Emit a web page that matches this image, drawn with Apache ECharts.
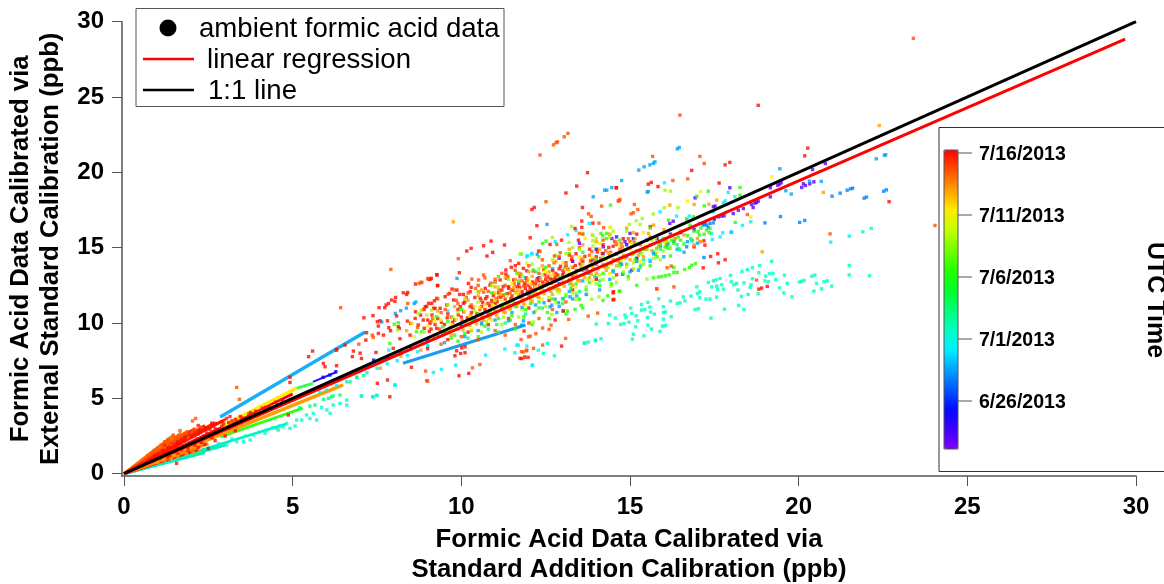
<!DOCTYPE html>
<html><head><meta charset="utf-8">
<script src="https://cdn.jsdelivr.net/npm/echarts@6/dist/echarts.min.js"></script>
<style>html,body{margin:0;padding:0;background:#fff}#c{width:1164px;height:584px}</style></head>
<body><div id="c"></div>
<script>
// ---- scatter values, flat x,y lists grouped by sampling time ----
const violetPts=[20.79,20.59,20.41,20.19,20.45,19.37,20.33,19.24,20.2,19.13,20.14,19.24,20.09,19,19.48,19.31,19.43,19.22,19.38,19.15,19.16,18.98,19.16,18.38,18.8,18.09,18.75,18,18.7,17.96,18.6,17.87,18.65,17.67,16.93,18.31,17.96,18.98,17.52,17.76,17.47,17.72,17.62,17.05,17.72,17.1,17.79,17.12,18.06,17.27,18.21,17.49,18.36,17.6,16.18,16.61,16.28,16.76,14.78,13.25,15.05,13.51,15,15.95,14.85,15.4,14.6,15.72,14.46,15.61,14.21,15.06,13.5,15.3,13.9,14.2,12.9,14.3];
const indigoPts=[10.8,10.6,11.6,11.3,12.3,13,12.9,12.6,13.3,14.1,13.7,13.6,14,14.9,14.3,13.8,14.6,14.6,14.9,15.2,15.2,14.3,15.5,15.5,15.8,15.6,16.2,15.9,16.5,16,16.9,16.2,7.4,7.54,7.8,7.7,8.2,8,8.5,8.3,6.28,6.77,6.1,6.55,5.9,6.4,9,8.9,9.5,9.4,10,9.8,10.4,10.2,11.2,11.1,12,11.9,13.1,13.8,14.2,14.6,15.1,15.6,17.2,16.6,17.5,16.9];
const azurePts=[22.6,18.84,22.52,18.75,22.01,18.36,21.94,18.29,21.6,18.95,21.54,18.91,21.44,18.82,21.23,18.62,20.99,18.42,20.18,16.81,20.03,16.68,19.46,17.07,19,16.65,18.01,16.03,17.37,16.61,17.27,16.5,17.17,16.5,17.47,16.65,17.32,16.34,17.07,16.61,17.23,16.65,17.19,14.35,16.68,15.06,14.75,13.9,15.2,14.1,15.9,15.1,16.3,15.4,13.8,13.3];
const skyPts=[16.46,21.65,16.4,21.56,15.74,20.7,15.69,20.6,15.59,20.5,15.42,20.37,15.26,20.15,14.75,19.46,14.46,18.99,14.31,18.82,14.25,18.82,15.54,18.73,15.51,18.69,22.54,21.14,22.58,21.17,22.3,20.9,20.67,19.4,20.32,19.42,19.78,18.56,19.62,18.78,19.44,20.24,13.91,18.38,12.54,16.55,8.6,11.3,8.65,11.4,8.37,10.99,8.2,10.82,8.04,10.64,7.64,10.07,9.87,12.97,13.02,10.8,12.83,10.7,13.42,11.81,13.22,11.74,13.02,11.63,12.88,11.35,12.68,11.19,12.63,11.08,12.78,11.57,11.84,10.15,11.79,9.86,9.5,8.7,10.5,9.5,11.5,10.7,10.8,11.3,11.9,13,12.2,11.2,12.7,13.6,13.2,12.1,13.6,12.8,14,13,14.4,12.9,14.7,14,15,13.4,15.3,14.7,15.6,14.1,16,14.4,16.4,14.9,16.7,15.4,12.25,14.56];
const skyCore=[10.1,9.1,10.6,10,11,10.2,11.4,10.15,11.8,11.05,12.15,10.7,12.45,11.35,12.9,11.1,13.3,11.6,13.7,11.9,14.1,12.2,14.5,13.4,14.9,14.4,15.25,13.5,15.7,14.6,16.1,15.2,16.6,14.7,17,15.3];
const cyanPts=[13.4,16.15,13.79,16.61,13.15,15.86,12.78,15.4,12.09,14.62,11.96,14.47,11.94,14.4,12.09,14.58,17.82,18.11,17.77,17.98,17.91,18.67,18.11,18.38,17.47,17.38,16.38,17.1,15.89,17.38,16.76,17.1,16.68,16.94,17.67,15.72,17.75,15.99,17.44,15.55,17.99,16.03,18.33,16.48,18.58,16.72,17.42,15.95,16.83,15.44,16.48,14.84,15.59,14.18,15.32,13.84,7.85,8.21,8.03,5.88,7.04,5.15,7.37,5.11,7.5,5.18,9.17,6.72,9.41,6.92,9.83,7.21,10.72,7.87,11.29,8.27,11.59,8.03,11.64,8.54,11.69,8.54,12.1,7.21,12.11,7.19,20.95,15.37,21.5,15.77,16.02,19.31,9.6,10.8,9,8.5,5.8,5.4,6,5.55,6.3,5.85,6.6,6.1,6.9,6.4,7.2,6.7,7.5,7,7.8,7.3,8.1,7.5,8.4,7.85,8.7,8.1,9,8.45];
const tealPts=[22.15,16.28,21.9,16.06,21.5,13.82,21.5,13.2,22.1,13.14,20.98,12.45,20.85,12.8,20.75,12.74,20.68,12.27,20.53,12.63,20.45,12.12,20.48,13.18,20.39,13.11,20.16,12.83,20.09,12.76,20.02,12.72,19.8,11.74,19.66,12.63,19.56,12,19.43,12.34,19.58,13.18,19.32,12.89,19.24,13.29,19.13,13.27,19.02,13.11,19,12.8,19.1,12.74,19.2,14.09,18.84,13.82,18.82,13.34,18.63,13.67,18.48,13.54,18.32,13.42,17.98,13.16,18.63,12.94,18.59,12.54,18.56,12.38,18.38,12.67,18.16,12.63,18.08,12.54,18.2,12.19,18,12.74,17.67,12.96,17.55,12.87,17.47,12.8,17.32,12.69,17.72,12.54,17.57,12.45,17.42,12.4,17.77,12.25,17.6,12.23,17.07,12.07,16.98,12.41,17,11.96,16.81,11.79,16.58,11.74,16.63,11.48,16.48,11.34,16.4,11.3,16.2,11.46,15.85,11.61,17.07,11.68,17.25,11.59,17.37,11.59,17.57,11.72,16.93,10.9,17.03,10.95,17.8,10.92,18.22,11.17,18.38,10.9,18.3,11.76,18.5,11.9,18.8,11.94,17.4,10.33,15.99,11.08,16.05,10.73,15.99,10.7,16.22,10.42,15.99,10.26,16.05,9.84,15.96,9.8,15.89,9.44,15.53,11.37,15.34,11.23,15.44,10.9,15.34,10.86,15.59,11.06,15.61,10.73,15.72,10.59,15.52,10.37,15.53,9.86,15.64,9.6,15.41,9.15,15.23,10.15,15.18,10.48,15.05,10.64,15.02,10.99,14.85,10.53,14.88,10.35,14.97,10.06,14.82,9.97,14.72,9.91,14.57,10.33,14.4,10.53,14.36,9.97,15.17,9.75,15.1,9.26,15.07,8.93,14.14,8.96,14,9.93,13.97,8.87,13.76,8.74,13.66,8.69,12.55,8.65,12.28,8.2,12.43,7.98,12.76,7.83,11.94,8.47,13.64,8.65,13.98,8.83,3.54,2.13,3.74,2.24,4.18,2.68,4.52,3.01,4.62,3.17,4.92,3.01,5.07,3.17,5.27,3.56,5.51,3.67,5.71,3.56,5.86,4.4,6.01,4.23,6.11,4.01,6.2,4.56,6.4,4.67,6.6,4.89,6.6,4.56,7.04,5.16,7.39,5.11,7.49,5.22,8.03,5.89,3.04,1.91,3.34,2.13,3.83,2.57,4.23,2.9,4.57,2.9,4.82,3.34,5.41,3.9,5.61,4,5.12,3.56,4.72,3.12,2.8,2,2.55,1.7,3.2,2.3,3.6,2.5,4,2.75,4.4,3.05];
const springPts=[5.51,4.49,5.66,4.56,5.91,4.94,6.06,5,6.2,5.16,6.4,5.22,6.15,5.11,5.21,4.38,10.2,9,10.8,9.6,11.3,10,11.9,10.6,12.4,11,13,11.6,13.5,12.1,14.1,12.8,14.8,13.3,15.4,14.2,15.9,14.9,16.4,15.2,16.8,15.6,12.2,13.4,13.2,12.6,6.7,6.1,6.9,6.4,7.1,6.5];
const greenPts=[14.42,17.83,12.41,15.29,12.51,15.44,11.77,14.58,14.34,11.81,14.68,12.12,13.55,11.17,13.37,10.9,13.14,10.8,8.01,9.93,8.13,10.02,7.88,8.65,8.82,9.42,9.27,10.42,8.67,9.42,16.94,13.95,16.83,13.84,16.76,13.69,16.62,13.56,16.4,13.36,16.3,13.36,16.16,13.2,16.05,13.14,15.94,13.09,15.84,13.05,14.14,15.95,14.19,15.79,14.31,15.95,16.14,15.28,16.09,15.39,16.23,15.5,16.04,15.06,15.89,15.28,16.33,15.61,15.99,15.61,15.79,14.95,16.43,15.72,15.69,14.73,16.18,14.95,17.37,16.28,17.27,16.17,17.02,16.06,16.78,16.5,16.68,16.83,16.88,17.05,17.32,18.75,18.26,19,18.26,18.49,16.98,18.42,17.2,17.78,18.12,16.68,16.14,16.83,9.3,9.1,9.6,10.1,9.8,9.2,10,10.9,10.3,9.5,10.5,10.6,10.7,9.8,10.9,12,11.1,10.3,11.3,11.9,11.5,10.5,11.7,12.8,11.9,10.9,12.1,12,12.3,11,12.5,13.7,12.7,11.6,12.9,13,13.1,11.8,13.2,14.6,13.4,12.6,13.6,14.7,13.8,12.7,14,14.2,14.1,12.5,14.3,15.6,14.5,13.5,14.7,15.5,14.9,13.9,15.1,14.6,15.3,13.7,15.5,14.9,15.6,16.3,15.8,14.4,15.9,15.2,16.1,15,16.3,15.3,16.5,15.5,16.7,15.8,16.9,16.1,17.1,16.3,17.2,15.9,11.65,13.3,11.1,13.08,12.14,13.52,12.29,14.4];
const greenCore=[9.45,9.75,9.7,9,10.1,9.3,10.35,10.2,10.6,9.9,10.85,10.8,11.05,9.9,11.2,11.05,11.45,10.2,11.6,11.1,11.85,10.4,12.05,11.3,12.3,11.4,12.55,10.7,12.75,12.3,13,11.3,13.25,12.3,13.5,11.6,13.7,12.2,13.95,13.1,14.2,13.3,14.45,12.6,14.7,13.8,14.95,13.1,15.15,14.2,15.4,14.9,15.6,13.8,15.75,14.55,16,15.45,16.2,14.45,16.45,14.95,16.6,15.25,16.85,15.5,17.05,15.85,17.35,16];
const greenLower=[9.9,8.8,10.5,9.1,11.1,9.4,11.6,9.6,12.1,9.9,12.6,10.3,13.1,10.6,13.6,11,14.2,11.5,14.7,12.1,15.2,12.5,15.7,13,16.3,13.7];
const limePts=[13.27,16.41,12.7,15.68,13.6,15.95,13.9,15.82,13.19,15.35,13.88,15.84,13.9,15.46,8.11,9.53,8.82,10.86,8.97,10.53,8.72,10.64,9.12,10.86,14.08,11.74,13.86,11.59,12.68,10.57,13.4,11.57,12.14,10.08,12.04,10.02,13.72,11.9,16.04,18.82,16.2,18.75,15.18,16.79,15.36,16.94,14.98,16.54,15.3,16.54,16.42,17.67,16.02,17.65,15.69,17.23,15.5,12.92,14.95,12.92,14.44,12.45,11.74,14.58,8.9,9.4,9.2,10.4,9.6,9.5,9.9,10.7,10.2,9.9,10.5,11.4,10.8,10.3,11.1,12.4,11.3,11.2,11.6,12,10.6,9.4,11.2,9.9,11.7,10.4,12.2,10.8,12.5,11.1,12.8,11.4,13.1,11.9,13.4,12,13.7,12.4,14,12.6,14.2,12.9,14.5,13,14.8,13.4,15.1,13.6,15.4,13.9,15.7,14.3,16,14.8,12.1,13.9,12.4,13.2,12.8,14.5,13.1,13.6,13.3,15,13.6,13.9,13.9,15.1,14.2,14.4,14.4,15.7,14.7,14.3,14.9,16.1,15.2,15.3];
const limeCore=[9.45,9.3,9.75,10.4,10.15,10.1,10.4,10.8,10.75,10.1,11,11.5,11.25,10.4,11.5,11.4,11.8,10.9,12.1,11.65,12.35,12.55,12.6,11.7,12.85,12.1,13,12.95,13.3,12,13.5,13.5,13.75,12.9,14.1,13.2,14.35,13.7,14.6,12.7,14.85,14.85,15.1,14,15.35,14.6,15.65,15.5,15.9,14.2,16.2,15.05,9.6,11.2,10.1,11.6,10.5,12.1,10.9,12.5,11.4,12.9,11.8,13.1,12.3,13.6,12.7,14.2,13.1,14.6,13.5,14.9,14,15.6,14.5,16.1];
const yellowPts=[19.2,19.71,18.58,17.03,17.09,18.73,14.41,16.34,16.7,18.09,14.42,16.37,13.67,15.62,8.53,10,9.22,10.09,11.94,13.96,8.6,9.1,9,9.8,9.4,10.2,9.7,9.9,10.1,10.8,10.4,11.1,10.7,11.2,11,12,11.2,11.5,11.5,12.6,11.7,12.2,12,12.9,12.2,12.4,12.5,13.4,12.7,12.7,13,14,13.2,13.4,13.5,14.4,13.8,13.9,14.1,15.3,14.3,14.2,14.7,15.2,15,14.9,15.4,16,10.3,9.6,10.9,10.2,11.4,10.9,11.9,11.2,12.4,11.6,12.9,12,13.4,12.4,13.9,12.8,14.4,13.3,14.9,13.7,15.3,14.1,15.8,14.7];
const yellowCore=[9.85,10.25,10.25,10.45,10.55,11.05,10.95,11.15,11.35,11.75,11.65,11.95,12.05,12.6,12.35,12.15,12.65,13.15,12.95,12.55,13.25,13.75,13.55,13.15,13.85,14.35,14.15,13.75,14.45,14.55,14.75,14.15,15.05,15.25,15.45,15.1,15.75,15.65,16.05,15.3];
const orangePts=[22.39,23.11,20.73,18.67,17.57,18.16,17.34,17.89,16.9,17.87,16.18,17.83,9.76,16.72,8.38,9.49,9.2,9,9.5,9.4,9.9,9.6,10.1,10,10.3,10.1,10.5,10.2,10.6,10.5,10.8,10.6,11,10.8,11.2,11,11.3,10.7,11.4,11.2,11.5,11.5,11.7,11.3,11.8,11.6,12,11.8,12.1,11.4,12.2,12,12.3,11.7,12.4,12.2,12.6,12.3,12.7,11.9,12.8,12.5,12.9,12.2,13,12.7,13.2,12.9,13.3,12.5,13.4,13.2,13.5,12.8,13.7,13.3,13.8,13,13.9,13.7,14,13.3,14.2,13.9,14.3,13.5,14.5,14.2,14.6,13.8,14.8,14.5,15,14.2,15.2,14.8,15.4,14.4,15.6,15.2,15.9,15.4,16.2,15.8,16.5,16.1,10.5,11.8,11,12.4,11.6,12.9,12.1,13.1,12.6,13.4,13.1,13.9,13.6,14.3,14.1,14.9,14.6,15.4,15.1,16,15.7,16.5,8.2,7.8,7.6,7,8.8,8.2,17,15.6,17.1,15.4,18.92,14.73,16.9,15.2,17.07,15.39];
const orangeCore=[9.7,9.2,10.05,9.55,10.25,9.85,10.45,9.95,10.65,10.2,10.85,10.4,11.05,10.5,11.25,10.75,11.45,10.95,11.65,11.1,11.85,11.3,12.05,11.55,12.25,11.75,12.45,11.95,12.65,12.1,12.85,12.25,13.05,12.45,13.25,12.65,13.45,12.85,13.65,13.05,13.85,13.25,14.05,13.6,14.25,13.7,14.45,13.95,14.65,14.1,14.85,14.3,15.05,14.55,15.25,14.5,15.45,14.9,15.65,14.8,15.85,15.1,16.05,15.5,16.35,15.6,16.6,15.85,11.15,11.95,11.55,12.35,11.95,12.75,12.35,12.95,12.75,13.25,13.15,13.6,13.55,13.7,13.95,14.25,14.35,14.65,14.75,15.1,15.15,15.6,15.55,15.95,16,16.2,1,0.75,1.2,0.9,1.4,1,1.6,1.15,1.85,1.3,2.05,1.4,2.25,1.55,9.3,10.8,9.8,11.1,10.2,11.5,10.6,12.2,11,12.7,11.3,13,11.7,13.3,12,13.4,12.4,13.8,12.8,14.1,13.2,14.9,13.6,15.2,14,15.4,14.4,15.9,14.9,16.3];
const dorangePts=[24.04,16.48,16.48,23.8,23.4,28.9,13.16,22.59,13.05,22.36,12.85,22.03,12.81,21.97,12.73,21.83,12.33,21.15,12.51,18.05,13.77,17.25,13.85,17.08,14.16,17.76,14.68,18.1,14.08,16.63,14.22,16.33,15.67,21.06,17.07,21.06,17.2,20.59,16.71,19.57,16.27,19.46,20.93,15.92,18.48,17.2,16.22,13.78,16.1,13.67,16.3,12.4,15.79,12.27,18.75,12.85,14.7,18.2,14.65,18.11,15.13,17.87,15.23,17.54,15.1,17.32,15.03,17.25,7.91,13.56,6.42,11.02,9,12.96,8.8,12.7,8.75,12.63,8.41,11.3,6.96,8.6,7.36,9.2,7.39,9.05,9.91,14.27,8.83,12.7,11.45,14.14,10.66,13.19,10.51,12.86,10.31,12.92,12.76,14.45,12.33,14.76,12.83,15.22,12.93,14.67,13.5,15.95,13.6,15.9,13.76,10.46,14.04,10.66,13.18,10.24,12.66,9.86,12.6,9.58,12.41,9.67,13.09,8.98,12.21,9.29,12.04,9.13,11.99,9.09,12.41,8.54,12.14,8.32,11.94,8.16,11.84,8.09,11.77,8.91,15.8,12.27,11.78,8.1,11.93,8.2,11.88,7.76,9,6.15,8.94,6.81,10.33,7.03,10.55,7.25,8.97,6.17,3.34,5.73,3.42,4.94,2.12,3.67,2.03,3.5,1.66,2.86,1.46,2.57,1.31,2.28,1.21,2.13,8.7,9.7,8.9,10.9,9.1,10.1,9.3,11.6,9.4,10.7,9.6,11.9,9.7,10.4,9.8,12.2,9.9,11.3,10.2,12,10.3,11.2,10.5,12.5,10.6,11.5,10.7,13,10.8,12.1,10.9,11.4,11,12.9,11.1,11.7,11.2,13.3,11.3,12.5,11.5,12.2,11.6,13.5,11.7,11.9,11.8,12.8,12,13.8,12.1,12.6,12.3,13.3,12.4,14.2,12.5,12.6,12.6,13.8,12.8,12.8,12.9,14.4,13,13.5,13.2,14.5,13.3,13.1,13.5,15,13.6,13.5,13.8,14.5,14,13.9,14.2,15.5,14.4,14.5,14.7,14.9,15,15.4,15.3,15.2,15.6,15.7,9.4,8.6,10,9.1,10.5,8.9,11,9.5,11.3,9.2,11.6,9.9,12,10,12.3,10.3,12.7,10.9,13.1,11.4];
const dorangeCore=[9.15,10.3,9.35,9.6,9.52,10.9,9.68,9.7,9.85,11.5,10.02,10.15,10.15,11.7,10.28,10.5,10.42,12.3,10.55,10.9,10.66,12.05,10.78,11.3,10.88,12.65,11.03,11.6,11.12,12.2,11.25,11.85,11.38,13.1,11.44,12,11.57,12.6,11.68,12.15,11.76,13.25,11.85,12.45,11.93,13,12.05,12.15,12.13,13.45,12.22,12.8,12.36,12.3,12.44,13.55,12.52,13,12.66,12.65,12.75,14,12.83,13.15,12.97,12.95,13.08,13.7,13.19,13.2,13.28,14.4,13.41,13.5,13.56,14.2,13.72,13.6,13.87,14.75,13.98,14.1,14.13,14.3,14.28,14.8,14.42,14.7,14.59,15.2,14.77,15.05,14.95,15.6,15.12,15.35,0.6,0.95,0.7,1.2,0.8,1.35,0.9,1.55,1,1.7,1.1,1.9,1.2,1.75,1.3,2.05,1.4,1.95,1.5,2.2,1.6,2.35,1.7,2.5,1.8,2.65,1.9,2.4,2,2.75,2.1,2.95,2.3,3.1];
const redPts=[18.8,24.45,13.74,19.98,13.42,19.09,13.1,18.63,12.16,17.67,12.09,17.54,13.59,17.67,14.6,18.98,12.24,16.46,12.04,15.66,13.57,16.77,13.57,16.35,13.9,16.63,20.27,21.61,20.18,21.1,22.68,18.05,17.82,20.5,17.96,20.66,16.83,20.13,17.64,19.29,15.83,19.06,15.54,19.22,15.63,19.33,14.59,18.98,17.6,14.6,17.39,14.42,17.62,14,17.82,14.2,17.17,13.67,14.5,12,14.5,11.54,19.07,12.43,18.9,12.32,18.82,12.25,17.22,15.17,17.19,15.46,16.9,15.06,9.27,13.21,9.3,12.5,9.07,12.9,8.64,12.59,8.41,12.03,8.28,12.01,8.38,11.9,8.05,11.7,7.93,11.53,8.03,11.44,7.84,11.3,7.77,11.2,7.73,11.02,7.56,11.02,7.38,10.49,7.11,10.35,8.08,10.47,7.51,10.09,7.59,10.15,7.54,9.8,7.81,10.15,7.85,9.69,7.9,9.49,8.13,9.76,8.16,9.65,8.4,10.13,7.19,9.36,7.17,8.87,7.54,9.31,7.69,9.2,8.18,8.96,8.48,9.2,6.55,8.54,6.3,8.25,5.59,8.14,5.47,7.77,6.8,8.14,6.77,7.77,7,8,7.04,7.65,7.47,8.05,7.98,8.32,8.64,10.75,8.79,10.53,8.87,10.2,9,10.2,9.22,10.97,9.12,11.3,8.97,11.1,8.72,9.87,8.9,9.65,9.07,9.98,9.27,9.65,8.63,10.31,8.5,9.98,10.66,15.13,10.88,15.44,11.28,15.18,10.29,14.96,10.16,14.78,10.93,14.69,10.76,14.45,9.28,13.19,9.11,12.97,9.03,12.92,9.29,12.48,9.94,13.34,10.21,12.63,10.29,12.37,11.7,13.96,11.6,13.81,11.48,13.7,11.32,13.52,11.32,13.25,11.84,13.63,11.94,13.47,12.29,14.78,9.72,12.26,9.87,12.19,9.95,11.9,10.06,11.9,9.52,11.75,9.65,11.97,9.27,11.64,9.2,11.48,9.03,11.31,8.93,11.09,8.88,10.91,10.26,12.08,10.51,12.08,10.71,12.3,10.85,12.52,11,12.74,11.15,12.86,11.35,12.97,11.55,12.86,11.74,13.08,11.94,12.86,10.56,11.64,10.76,11.75,10.97,11.97,11.2,12.19,11.4,12.41,11.65,12.41,11.89,12.52,10.06,11.31,10.26,11.09,9.97,11.09,9.77,11.53,9.57,11.2,9.37,10.98,9.18,10.98,9.13,10.53,13.47,15.5,13.37,16.28,12.63,15.22,12.97,15.5,14.51,12.08,14.52,11.57,12.78,10.2,12.97,8.47,13.02,10.8,11.88,7.72,11.79,7.65,11.86,9.47,11.74,7.65,11.98,7.72,9.86,8.16,10.11,8.03,9.98,7.98,9.81,7.83,10.11,8.43,10.01,8.36,9.93,6.5,10.22,6.66,8.52,7.06,7.81,6.22,7.51,6,7.88,5.11,4.92,6.4,4.92,6.06,6.3,8.2,5.91,7.32,5.96,7.1,6.3,7.17,2.75,3.34,2.89,3.45,3.14,3.79,3.04,3.67,1.96,2.79,1.71,2.24,1.81,2.46,1.56,2.13,1.51,1.68,4.87,3.9,2.5,1.68,1.56,0.69,9.1,9.6,9.3,10.3,9.5,9.9,9.6,10.6,9.8,10.2,9.9,10.9,10,10.4,10.1,11.4,10.3,10.7,10.4,11.7,10.6,11.1,10.7,10.9,10.9,11.5,11,11.3,11.1,12,11.3,11.6,11.4,12.3,11.5,11.8,11.7,12.6,11.8,12.1,11.9,12.3,12,12.5,12.1,12.2,12.2,12.6,12.3,12.8,12.4,12.5,12.5,12.9,12.6,13.1,12.7,12.9,12.8,13.3,12.9,13.6,13,13.2,13.1,14,13.3,13.7,13.4,14.6,13.6,14.1,13.8,14.9,14,14.4,14.2,15.2,14.5,15.1,14.8,15.6,15.2,15.9,15.6,16.4,9,8.3,9.6,8.9,10.2,9.4,10.8,9.9,11.4,10.3,12,11,12.6,11.5,13.3,12.2,14,12.9,14.6,13.2,2.2,3.2,2.4,3.05,2.6,3.35,2.7,3,2.9,3.15,3.1,3.4,3.3,3.6,3.5,3.7,3.7,3.95,3.9,4.15,4.2,4.4,1.2,1.9,1.4,2,1.6,1.95,1.8,2.2,2,2.45,2.2,2.65,1.3,1.1,1.6,1.3,1.9,1.5,2.2,1.75,2.4,1.95,2.7,2.2,3,2.5,3.3,2.85];
const redCore=[9.05,9.45,9.22,9.9,9.41,10.05,9.58,10.35,9.74,10.05,9.91,10.55,10.07,10.75,10.18,10.35,10.34,11,10.46,10.62,10.63,11.35,10.72,11.62,10.84,11.15,10.95,11.82,11.06,11.42,11.17,11.72,11.24,12.42,11.36,11.95,11.47,11.62,11.53,12.17,11.62,12.02,11.73,12.37,11.81,11.92,11.88,12.66,11.96,12.1,12.04,12.32,12.11,12.72,12.18,12.4,12.25,12.95,12.33,12.5,12.41,12.72,12.48,13.21,12.55,12.7,12.63,12.92,12.71,13.48,12.78,13.02,12.86,13.18,12.94,13.77,13.03,13.36,13.16,13.58,13.27,14.22,13.38,13.82,13.52,13.92,13.66,14.42,13.83,14.12,14.03,14.72,14.18,14.62,14.37,15.02,14.55,15.42,14.73,15.25];
const redOrigin=[0.8,0.95,0.9,1.2,1,1.3,1.05,1,1.15,1.55,1.25,1.35,1.3,1.7,1.35,1.2,1.45,1.85,1.5,1.45,1.55,1.75,1.65,2.05,1.7,1.6,1.75,1.85,1.85,2.3,1.9,1.75,1.95,2.05,2.05,2.6,2.1,1.9,2.15,2.3,2.25,2.85,2.3,2.05,2.35,2.5,2.45,2.7,2.55,2.95,2.6,2.4,2.65,3.2,2.75,2.7,2.85,2.95,2.95,3.3,3.1,3.05,3.2,3.5,3.35,3.4,3.45,3.8,3.6,3.6,3.75,4.05,3.9,3.95,4.1,4.35,4.3,4.4,4.5,4.75,4.7,4.85];

// time of each group, in days after 6/26/2013, on the colour scale; the dense core reds sit under the later mixes as in the reference
const pointGroups=[violetPts,indigoPts,azurePts,skyPts,cyanPts,tealPts,springPts,redCore,redPts,redOrigin,dorangeCore,greenPts,greenLower,limePts,yellowPts,orangePts,dorangePts,orangeCore,greenCore,limeCore,yellowCore,skyCore];
const groupDays=[-3.1,-0.7,1.85,2.5,4.1,5.7,7.3,20,20,20,18.6,10.6,10.6,13,15.4,17,18.6,17,10.6,13,15.4,2.5];

// ---- lines ----
const oneToOne=[[0,0],[30,30]];
const regression=[[0,0],[29.68,28.84]];
// tightly packed runs of samples that read as solid strokes
const runs=[
 [[0,0],[1.46,2.55]],[[0,0],[1.7,2.7]],[[0,0],[1.9,2.85]],[[0,0],[2.1,3]],[[0,0],[2.4,3.2]],[[0,0],[2.7,3.4]],[[0,0],[3,3.6]],[[0,0],[5,5.3]],
 [[0,0],[2.4,1.4]],[[0,0],[3,1.9]],[[0,0],[4.8,3.3]],[[0,0],[2.2,1.6]],[[0,0],[2.5,2]],
 [[2.85,3.1],[5.12,5.68]],[[2.85,2.45],[5.3,4.36]],[[1,0.9],[6.5,5.9]],[[5.12,5.68],[5.6,6]],
 [[2.85,3.76],[7.15,9.4]],[[8.27,7.33],[11.9,9.87]],[[5.6,6.1],[6.3,6.75]]
];
const runColors=['#ff7a00','#ff7000','#ff6a00','#ff5000','#ff2a00','#ff2000','#ff1500','#ff0000','#00f0c0','#00f0c0','#00f0c0','#ff2000','#ff8800','#ffee00','#30ff20','#ff9d00','#30ff50','#18b0f4','#1c9cf0','#2a10ff'];
const runWidths=[3,3,3,3,3,3,3,3,3,3,2.5,3,3,3.5,3,3.5,3,3.5,3,2];

// ---- axes and colour scale labels ----
const xTicks=[0,5,10,15,20,25,30];
const yTicks=[0,5,10,15,20,25,30];
const scaleLabels=['7/16/2013','7/11/2013','7/6/2013','7/1/2013','6/26/2013'];
const scaleDays=[20,15,10,5,0];
const scaleColors=['#ff0000','#ff4e00','#ff9d00','#ffeb00','#c4ff00','#76ff00','#27ff00','#00ff27','#00ff74','#00ffc1','#00f0ff','#00a4ff','#0057ff','#000bff','#3c00ff','#8000ff'];

const FONT='"Liberation Sans", Arial, sans-serif';
const toPairs=(flat,day)=>{const o=[];for(let i=0;i<flat.length;i+=2)o.push([flat[i],flat[i+1],day]);return o;};

const chart=echarts.init(document.getElementById('c'),null,{renderer:'canvas'});
const runSeries=runs.map((r,i)=>({type:'line',data:r,symbol:'none',silent:true,z:2,animation:false,
  lineStyle:{color:runColors[i],width:runWidths[i]}}));
const pointSeries=pointGroups.map((g,i)=>({type:'scatter',data:toPairs(g,groupDays[i]),symbol:'rect',symbolSize:3.4,z:3,animation:false,silent:true}));
const firstPoint=runSeries.length;
const scaleTop=150,scaleH=299,scaleLeft=944,scaleW=14;
const dayToY=d=>401-12.4*d;

const gfx=[
 {type:'rect',shape:{x:136,y:8.5,width:368,height:98},style:{fill:'#fff',stroke:'#555',lineWidth:1},z:10},
 {type:'circle',shape:{cx:168,cy:28,r:8.5},style:{fill:'#000'},z:11},
 {type:'text',x:199,y:29,style:{text:'ambient formic acid data',font:'27.6px '+FONT,fill:'#000',textVerticalAlign:'middle'},z:11},
 {type:'line',shape:{x1:143,y1:59,x2:194,y2:59},style:{stroke:'#ff0000',lineWidth:2.5},z:11},
 {type:'text',x:207,y:60,style:{text:'linear regression',font:'27.6px '+FONT,fill:'#000',textVerticalAlign:'middle'},z:11},
 {type:'line',shape:{x1:143,y1:90,x2:194,y2:90},style:{stroke:'#000',lineWidth:2.5},z:11},
 {type:'text',x:208,y:91,style:{text:'1:1 line',font:'27.6px '+FONT,fill:'#000',textVerticalAlign:'middle'},z:11},
 {type:'rect',shape:{x:939,y:127.5,width:240,height:344},style:{fill:'none',stroke:'#333',lineWidth:1},z:10},
 {type:'rect',shape:{x:scaleLeft,y:scaleTop,width:scaleW,height:scaleH},style:{fill:'none',stroke:'#555',lineWidth:1},z:11},
 {type:'text',x:1155,y:300,rotation:-Math.PI/2,style:{text:'UTC Time',font:'bold 25px '+FONT,fill:'#000',textAlign:'center',textVerticalAlign:'middle'},z:11}
];
scaleLabels.forEach((t,i)=>{const y=dayToY(scaleDays[i]);
 gfx.push({type:'line',shape:{x1:958,y1:y,x2:972,y2:y},style:{stroke:'#555',lineWidth:1},z:11});
 gfx.push({type:'text',x:979,y:y+1.5,style:{text:t,font:'bold 19.5px '+FONT,fill:'#000',textVerticalAlign:'middle'},z:11});
});

chart.setOption({
 animation:false,backgroundColor:'#fff',
 grid:{left:122,right:28,top:21.7,bottom:108,containLabel:false,outerBoundsMode:'none'},
 xAxis:{type:'value',min:-0.06,max:30,splitLine:{show:false},
  axisLine:{show:true,onZero:false,lineStyle:{color:'#555',width:1.5}},
  axisTick:{show:true,length:10,lineStyle:{color:'#555',width:1},customValues:xTicks},
  axisLabel:{customValues:xTicks,margin:19,fontFamily:FONT,fontWeight:'bold',fontSize:24,color:'#000',formatter:v=>String(v)},
  name:'Formic Acid Data Calibrated via\nStandard Addition Calibration (ppb)',nameLocation:'middle',nameGap:49,
  nameTextStyle:{fontFamily:FONT,fontWeight:'bold',fontSize:25.7,color:'#000',lineHeight:30}},
 yAxis:{type:'value',min:-0.15,max:30,splitLine:{show:false},
  axisLine:{show:true,onZero:false,lineStyle:{color:'#555',width:1.5}},
  axisTick:{show:true,length:10,lineStyle:{color:'#555',width:1},customValues:yTicks},
  axisLabel:{customValues:yTicks,margin:18,fontFamily:FONT,fontWeight:'bold',fontSize:24,color:'#000',formatter:v=>String(v)},
  name:'Formic Acid Data Calibrated via\nExternal Standard Calibration (ppb)',nameLocation:'middle',nameGap:52,nameRotate:90,
  nameTextStyle:{fontFamily:FONT,fontWeight:'bold',fontSize:25.7,color:'#000',lineHeight:30}},
 visualMap:{type:'continuous',dimension:2,min:-3.87,max:20.24,seriesIndex:pointSeries.map((_,i)=>i+firstPoint),
  inRange:{color:scaleColors.slice().reverse()},calculable:false,text:null,showLabel:false,
  left:scaleLeft,top:scaleTop,itemWidth:scaleW,itemHeight:scaleH,padding:0,hoverLink:false,silent:true},
 series:[...runSeries,...pointSeries,
  {type:'line',name:'linear regression',data:regression,symbol:'none',z:5,silent:true,lineStyle:{color:'#ff0000',width:3}},
  {type:'line',name:'1:1 line',data:oneToOne,symbol:'none',z:6,silent:true,lineStyle:{color:'#000',width:3}}],
 graphic:{elements:gfx}
});
</script></body></html>
